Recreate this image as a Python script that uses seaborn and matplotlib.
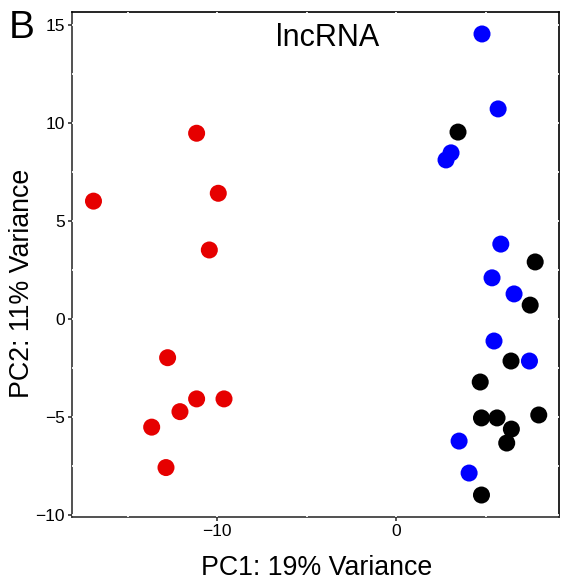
import matplotlib
matplotlib.use("Agg")
import matplotlib.pyplot as plt
import seaborn as sns
import pandas as pd
from matplotlib.ticker import MultipleLocator

# ---- data ----
red_pc1 = [-16.9, -11.14, -9.93, -10.43, -12.76, -11.14, -9.61, -12.07, -13.65, -12.85]
red_pc2 = [6.0, 9.46, 6.40, 3.51, -1.98, -4.08, -4.08, -4.73, -5.52, -7.58]

blue_pc1 = [4.80, 5.70, 3.07, 2.79, 5.85, 5.36, 6.59, 5.47, 7.45, 3.52, 4.08]
blue_pc2 = [14.52, 10.70, 8.46, 8.10, 3.81, 2.09, 1.27, -1.13, -2.15, -6.23, -7.86]

black_pc1 = [3.46, 7.77, 7.49, 6.42, 4.70, 4.77, 5.64, 7.97, 6.44, 6.18, 4.77]
black_pc2 = [9.52, 2.90, 0.70, -2.15, -3.22, -5.05, -5.05, -4.90, -5.62, -6.33, -8.98]

groups = ["red", "blue", "black"]
colors = {"red": "#E60000", "blue": "#0000FF", "black": "#000000"}

title = "lncRNA"
xlabel = "PC1: 19% Variance"
ylabel = "PC2: 11% Variance"
panel_letter = "B"
xticks = [-10, 0]
yticks = [-10, -5, 0, 5, 10, 15]

df = pd.concat([
    pd.DataFrame({"PC1": red_pc1, "PC2": red_pc2, "group": "red"}),
    pd.DataFrame({"PC1": blue_pc1, "PC2": blue_pc2, "group": "blue"}),
    pd.DataFrame({"PC1": black_pc1, "PC2": black_pc2, "group": "black"}),
], ignore_index=True)

sns.set_style("white")
plt.rcParams["font.family"] = ["Liberation Sans", "DejaVu Sans"]
plt.rcParams["text.color"] = "black"
plt.rcParams["axes.labelcolor"] = "black"

fig = plt.figure(figsize=(5.61, 5.82), dpi=100)
ax = fig.add_axes([72/561, 1 - 517/582, (559-72)/561, (517-12)/582])

sns.scatterplot(data=df, x="PC1", y="PC2", hue="group", hue_order=groups,
                palette=colors, s=150, linewidth=0, legend=False, ax=ax, zorder=4)

ax.set_xlim(-18.1, 9.1)
ax.set_ylim(-10.1, 15.64)
ax.set_xticks(xticks)
ax.set_yticks(yticks)
ax.xaxis.set_minor_locator(MultipleLocator(5))
ax.yaxis.set_minor_locator(MultipleLocator(2.5))
ax.set_xticklabels([str(t).replace("-", "\u2212") for t in xticks])
ax.set_yticklabels([str(t).replace("-", "\u2212") for t in yticks])

ax.set_axisbelow(False)
ax.grid(True, which="both", color="white", linewidth=1.3)

for side in ["left", "bottom", "top", "right"]:
    ax.spines[side].set_visible(True)
    ax.spines[side].set_color("black")
    ax.spines[side].set_linewidth(1.2)
ax.spines["left"].set_color("#333333")
ax.spines["bottom"].set_color("#333333")

ax.tick_params(axis="both", which="major", length=3, width=1.2, color="#333333",
               labelsize=12.5, labelcolor="black", pad=2, bottom=True, left=True)
ax.tick_params(axis="both", which="minor", length=0)

ax.set_xlabel(xlabel, fontsize=19.3)
ax.set_ylabel(ylabel, fontsize=19.3)
ax.xaxis.set_label_coords(0.5025, -0.075)
ax.yaxis.set_label_coords(-0.076, 0.463)

ax.text(0.525, 0.949, title, transform=ax.transAxes, ha="center", va="center",
        fontsize=22, zorder=5)
fig.text(0.039, 0.952, panel_letter, ha="center", va="center", fontsize=28)

fig.savefig("out.png", dpi=100)
